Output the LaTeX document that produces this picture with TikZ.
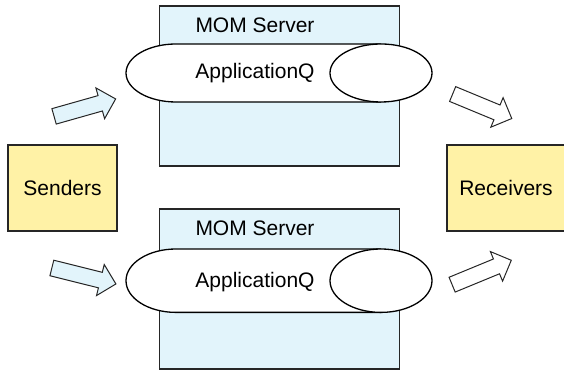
\documentclass[tikz,border=0pt]{standalone}
\usepackage{fontspec}
\setmainfont{Liberation Sans}
\usetikzlibrary{shapes.arrows}

\definecolor{srvblue}{RGB}{226,244,251}
\definecolor{boxyellow}{RGB}{255,242,166}

\begin{document}
\begin{tikzpicture}[x=1pt,y=1pt,
  every node/.style={font=\fontsize{21}{25}\selectfont},
  server/.style={draw=black!85,line width=1.3pt,fill=srvblue},
  party/.style={draw=black!85,line width=1.3pt,fill=boxyellow},
  queue/.style={draw=black,line width=1.3pt,fill=white},
  flow/.style={single arrow,draw=black!85,line width=1pt,inner xsep=0pt,
    inner ysep=7.5pt,single arrow head extend=8pt},
  inflow/.style={flow,fill=srvblue},
  outflow/.style={flow,fill=white}]
\useasboundingbox (0,0) rectangle (564,371);
%\draw[step=50] (0,0) grid (564,371);

% senders and receivers
\draw[party] (8,140) rectangle (117,226);
\node (snd) at (62.5,183) {Senders};
\draw[party] (447,140) rectangle (567,226);
\node (rcv) at (506,183) {Receivers};

% upper server
\draw[server] (159.5,205) rectangle (399.5,365);
\node (srv1) at (255,346) {MOM Server};
\path[queue] (381,327) -- (176,327) arc[start angle=90,end angle=270,x radius=50,y radius=29] -- (381,269);
\draw[queue] (381,298) ellipse (51 and 29);
\node (q1) at (255,298) {ApplicationQ};

% lower server
\draw[server] (159.5,2) rectangle (399.5,162);
\node (srv2) at (255,143) {MOM Server};
\path[queue] (381,122) -- (176,122) arc[start angle=90,end angle=270,x radius=50,y radius=31.7] -- (381,58.6);
\draw[queue] (381,90.3) ellipse (51 and 31.7);
\node (q2) at (255,89) {ApplicationQ};

% flows
\node[inflow,minimum height=64pt,rotate=15.8] (in1) at (81,262.25) {};
\node[inflow,minimum height=66pt,rotate=-14] (in2) at (80,96) {};
\node[outflow,minimum height=64pt,rotate=-22.5] (out1) at (478.5,266.25) {};
\node[outflow,minimum height=64pt,rotate=22.4] (out2) at (478,97) {};
\end{tikzpicture}
\end{document}
